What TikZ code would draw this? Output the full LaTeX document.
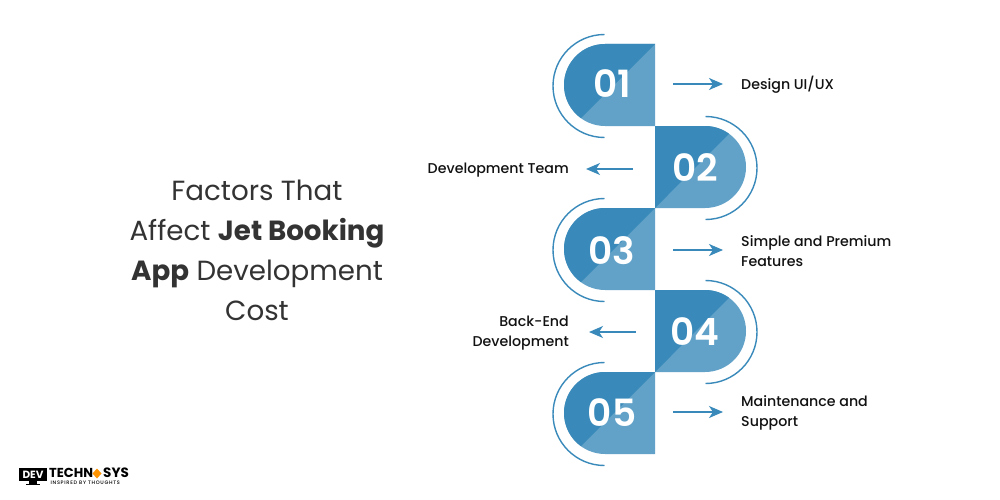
\documentclass[tikz,border=0pt]{standalone}
\usepackage{fontspec}
\setmainfont{Poppins}
\newfontface\numface{Poppins SemiBold}
\newfontface\labface{Poppins Medium}
\newfontface\tagface{Poppins Medium}[LetterSpace=14]
\usetikzlibrary{arrows.meta}
\definecolor{bluedark}{HTML}{398ABA}
\definecolor{bluelight}{HTML}{62A2C8}
\definecolor{ink}{HTML}{111111}
\definecolor{titleink}{HTML}{333333}
\tikzset{
  num/.style={text=white,font=\fontsize{37.5}{37.5}\selectfont\numface,inner sep=0pt,anchor=base},
  lab/.style={text=ink,font=\fontsize{14.2}{20.5}\selectfont\labface,inner sep=0pt,align=left,anchor=west},
  labr/.style={lab,align=right,anchor=east},
  ttl/.style={text=titleink,font=\fontsize{27.7}{40}\selectfont,inner sep=0pt,anchor=base},
  ring/.style={draw=bluedark,line width=1.4pt},
  con/.style={draw=bluedark,line width=1.4pt,-{Stealth[length=14pt,width=12pt,inset=4pt]}}
}
\newcommand{\pillL}[1]{%
  \fill[bluelight] (655,#1-41) -- (605,#1-41) arc[start angle=-90,end angle=-270,radius=41] -- (655,#1+41) -- cycle;
  \fill[bluedark] (655,#1-41) -- (605,#1-41) arc[start angle=-90,end angle=-234,radius=41] -- cycle;
  \draw[ring] (604.5,#1-50.5) arc[start angle=-90,end angle=-270,radius=51.5];
}
\newcommand{\pillR}[1]{%
  \fill[bluelight] (655,#1+41) -- (705,#1+41) arc[start angle=90,end angle=-90,radius=41] -- (655,#1-41) -- cycle;
  \fill[bluedark] (655,#1+41) -- (655,#1-41) -- (705,#1-41) arc[start angle=-90,end angle=-54,radius=41] -- cycle;
  \draw[ring] (705.5,#1-50.5) arc[start angle=-90,end angle=90,radius=51.5];
}
\begin{document}
\begin{tikzpicture}[x=1pt,y=-1pt]
\useasboundingbox (0,0) rectangle (1000,500);
\fill[white] (0,0) rectangle (1000,500);
% title
\node[ttl] (t1) at (257,200) {Factors That};
\node[ttl] (t2) at (257,240) {Affect \textbf{Jet Booking}};
\node[ttl] (t3) at (257,280) {\textbf{App} Development};
\node[ttl] (t4) at (257,320) {Cost};
% pills
\pillL{85}\pillR{167}\pillL{249}\pillR{331}\pillL{413}
\node[num] (n1) at (612,98) {01};
\node[num] (n2) at (695,181) {02};
\node[num] (n3) at (612,264) {03};
\node[num] (n4) at (695,345) {04};
\node[num] (n5) at (612,426) {05};
% labels
\node[lab] (l1) at (741,85) {Design UI/UX};
\node[labr] (l2) at (569,170) {Development Team};
\node[lab] (l3) at (741,251) {Simple and Premium\\Features};
\node[labr] (l4) at (569,333) {Back-End\\Development};
\node[lab] (l5) at (741,413) {Maintenance and\\Support};
% connectors
\coordinate (a1) at (673,84); \coordinate (b1) at (723,84);
\coordinate (a2) at (633,169); \coordinate (b2) at (586,169);
\coordinate (a3) at (673,250); \coordinate (b3) at (723,250);
\coordinate (a4) at (636,332); \coordinate (b4) at (589,332);
\coordinate (a5) at (673,412); \coordinate (b5) at (723,412);
\foreach \i in {1,...,5}{\draw[con] (a\i) -- (b\i);}
% logo
\fill[black] (19,468) rectangle (47,481);
\fill[black] (29,481) rectangle (37,484);
\fill[black] (26,484) rectangle (40,485.2);
\node[inner sep=0pt,text=white,font=\fontsize{10.5}{10.5}\selectfont\bfseries] (dv) at (33,474.5) {DEV};
\node[inner sep=0pt,anchor=west,text=black,font=\fontsize{13}{13}\selectfont\bfseries] (te) at (49,473) {TECHN};
\fill[orange!85!yellow] (97,468.5) -- (101.5,473.5) -- (97,478.5) -- (92.5,473.5) -- cycle;
\node[inner sep=0pt,anchor=west,text=black,font=\fontsize{13.5}{13.5}\selectfont\bfseries] (sy) at (103,473) {SYS};
\node[inner sep=0pt,anchor=west,text=black,font=\fontsize{5}{5}\selectfont\tagface] (tg) at (50.5,482.3) {INSPIRED BY THOUGHTS};
\end{tikzpicture}
\end{document}
